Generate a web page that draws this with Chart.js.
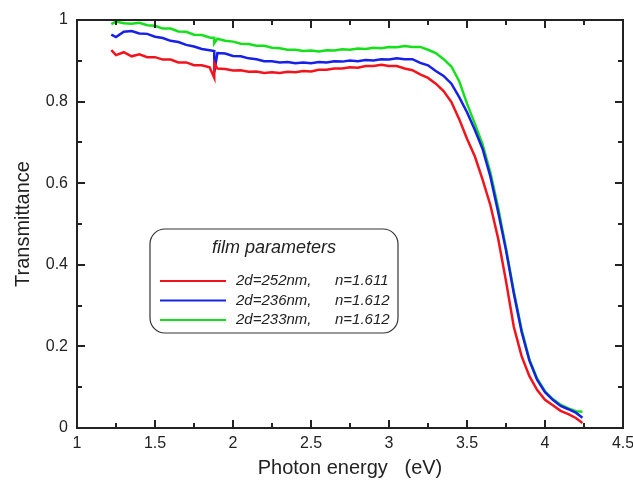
<!DOCTYPE html>
<html>
<head>
<meta charset="utf-8">
<script src="https://cdn.jsdelivr.net/npm/chart.js@4"></script>
<style>
	html, body { margin: 0; padding: 0; background: #fff; }
	#wrap { width: 633px; height: 486px; }
</style>
</head>
<body>
<div id="wrap"><canvas id="myChart" width="633" height="486"></canvas></div>
<script>
// photon energy (eV), shared by all three curves (1.88 twice = the glitch spike)
var energy = [
	1.22, 1.25, 1.3, 1.35, 1.4, 1.45, 1.5, 1.55, 1.6, 1.65,
	1.7, 1.75, 1.8, 1.85, 1.88, 1.88, 1.9, 1.95, 2.0, 2.05,
	2.1, 2.15, 2.2, 2.25, 2.3, 2.35, 2.4, 2.45, 2.5, 2.55,
	2.6, 2.65, 2.7, 2.75, 2.8, 2.85, 2.9, 2.95, 3.0, 3.05,
	3.1, 3.15, 3.2, 3.25, 3.3, 3.35, 3.4, 3.45, 3.5, 3.55,
	3.6, 3.65, 3.7, 3.75, 3.8, 3.85, 3.9, 3.95, 4.0, 4.05,
	4.1, 4.15, 4.2, 4.24,
]
var film252 = [
	0.926, 0.914, 0.921, 0.911, 0.916, 0.909, 0.909, 0.903, 0.903, 0.896,
	0.896, 0.889, 0.889, 0.884, 0.858, 0.895, 0.881, 0.88, 0.876, 0.877,
	0.873, 0.874, 0.87, 0.872, 0.87, 0.873, 0.872, 0.875, 0.874, 0.878,
	0.878, 0.881, 0.881, 0.884, 0.883, 0.887, 0.887, 0.89, 0.887, 0.887,
	0.881, 0.877, 0.867, 0.858, 0.844, 0.826, 0.799, 0.757, 0.709, 0.666,
	0.609, 0.546, 0.464, 0.36, 0.248, 0.176, 0.127, 0.093, 0.069, 0.056,
	0.042, 0.034, 0.024, 0.012,
]
var film236 = [
	0.964, 0.958, 0.971, 0.973, 0.967, 0.966, 0.959, 0.956, 0.949, 0.946,
	0.939, 0.935, 0.929, 0.926, 0.924, 0.872, 0.919, 0.918, 0.912, 0.911,
	0.906, 0.904, 0.899, 0.899, 0.896, 0.897, 0.894, 0.896, 0.894, 0.897,
	0.896, 0.899, 0.898, 0.901, 0.899, 0.902, 0.901, 0.904, 0.903, 0.906,
	0.904, 0.904, 0.895, 0.889, 0.875, 0.863, 0.844, 0.811, 0.774, 0.731,
	0.684, 0.616, 0.529, 0.436, 0.33, 0.236, 0.165, 0.118, 0.088, 0.069,
	0.054, 0.046, 0.037, 0.025,
]
var film233 = [
	0.99, 0.996, 0.992, 0.991, 0.993, 0.987, 0.986, 0.979, 0.979, 0.972,
	0.971, 0.964, 0.963, 0.957, 0.956, 0.943, 0.954, 0.949, 0.947, 0.942,
	0.941, 0.937, 0.937, 0.932, 0.931, 0.927, 0.927, 0.924, 0.925, 0.923,
	0.926, 0.925, 0.928, 0.927, 0.93, 0.929, 0.932, 0.931, 0.934, 0.933,
	0.936, 0.934, 0.934, 0.927, 0.919, 0.904, 0.886, 0.85, 0.795, 0.746,
	0.695, 0.626, 0.54, 0.44, 0.335, 0.241, 0.168, 0.121, 0.09, 0.071,
	0.057, 0.048, 0.041, 0.04,
]
var thickness = ["2d=252nm,", "2d=236nm,", "2d=233nm,"]
var refIndex = ["n=1.611", "n=1.612", "n=1.612"]
var xTicks = [1, 1.5, 2, 2.5, 3, 3.5, 4, 4.5]
var yTicks = [0, 0.2, 0.4, 0.6, 0.8, 1]

var FONT = "'Liberation Sans', Arial, sans-serif"
var INK = "#222"

function pts(ys) {
	return energy.map(function (e, i) { return {x: e, y: ys[i]} })
}

// frame + inward ticks, drawn as filled rects
function drawFrame(chart) {
	var c = chart.ctx, sx = chart.scales.x, sy = chart.scales.y
	var L = Math.round(sx.getPixelForValue(1)), R = Math.round(sx.getPixelForValue(4.5))
	var T = Math.round(sy.getPixelForValue(1)), B = Math.round(sy.getPixelForValue(0))
	var t = 2
	c.save()
	c.fillStyle = INK
	c.fillRect(L - 1, T - 1, R - L + t, t)
	c.fillRect(L - 1, B - 1, R - L + t, t)
	c.fillRect(L - 1, T - 1, t, B - T + t)
	c.fillRect(R - 1, T - 1, t, B - T + t)
	for (var k = 0; k <= 14; k++) {
		var px = Math.round(sx.getPixelForValue(1 + k * 0.25))
		var len = k % 2 === 0 ? 8 : 5
		c.fillRect(px - 1, B - len, t, len)
		c.fillRect(px - 1, T, t, len)
	}
	for (var j = 0; j <= 10; j++) {
		var py = Math.round(sy.getPixelForValue(j / 10))
		var l2 = j % 2 === 0 ? 8 : 5
		c.fillRect(L, py - 1, l2, t)
		c.fillRect(R - l2, py - 1, l2, t)
	}
	c.restore()
}

function drawLegend(chart) {
	var c = chart.ctx, sx = chart.scales.x, sy = chart.scales.y
	var x0 = Math.round(sx.getPixelForValue(1)) + 73, y0 = Math.round(sy.getPixelForValue(1)) + 209
	var w = 248, h = 104, r = 15
	c.save()
	c.fillStyle = "#fff"
	c.strokeStyle = "#333"
	c.lineWidth = 1.2
	c.beginPath()
	c.roundRect(x0, y0, w, h, r)
	c.fill()
	c.stroke()
	c.fillStyle = INK
	c.textBaseline = "middle"
	c.textAlign = "center"
	c.font = "italic 18px " + FONT
	c.fillText("film parameters", x0 + 124, y0 + 19)
	c.font = "italic 15px " + FONT
	c.textAlign = "left"
	chart.data.datasets.forEach(function (ds, i) {
		var yy = y0 + 52 + i * 19.5
		c.fillStyle = ds.borderColor
		c.fillRect(x0 + 10, yy - 1, 66, 2)
		c.fillStyle = INK
		c.fillText(thickness[i], x0 + 86, yy)
		c.fillText(refIndex[i], x0 + 185, yy)
	})
	c.restore()
}

var ctx = document.getElementById("myChart").getContext("2d")
var myChart = new Chart(ctx, {
	type: "line",
	data: {
		datasets: [
			{label: thickness[0], data: pts(film252), borderColor: "#f2141c"},
			{label: thickness[1], data: pts(film236), borderColor: "#1620e6"},
			{label: thickness[2], data: pts(film233), borderColor: "#16e01c"},
		],
	},
	options: {
		responsive: false,
		animation: false,
		layout: {padding: {top: 20, right: 10, left: 0, bottom: 0}},
		elements: {
			point: {radius: 0},
			line: {borderWidth: 2.5, tension: 0},
		},
		scales: {
			x: {
				type: "linear",
				min: 1,
				max: 4.5,
				afterBuildTicks: function (s) { s.ticks = xTicks.map(function (v) { return {value: v} }) },
				afterFit: function (s) { s.height = 58; s.paddingLeft = 0; s.paddingRight = 0 },
				grid: {display: false, drawTicks: false},
				border: {display: false},
				ticks: {color: INK, padding: 6, maxRotation: 0, font: {family: FONT, size: 16}, callback: function (v) { return String(v) }},
				title: {display: true, text: "Photon energy   (eV)", color: INK, padding: {top: 2, bottom: 6}, font: {family: FONT, size: 20}},
			},
			y: {
				min: 0,
				max: 1,
				afterBuildTicks: function (s) { s.ticks = yTicks.map(function (v) { return {value: v} }) },
				afterFit: function (s) { s.width = 77; s.paddingTop = 0; s.paddingBottom = 0 },
				grid: {display: false, drawTicks: false},
				border: {display: false},
				ticks: {color: INK, padding: 9, font: {family: FONT, size: 16}, callback: function (v) { return String(v) }},
				title: {display: true, text: "Transmittance", color: INK, padding: {top: 11, bottom: 0}, font: {family: FONT, size: 20}},
			},
		},
		plugins: {
			legend: {display: false},
			tooltip: {enabled: false},
		},
	},
	plugins: [{id: "deco", afterDraw: function (chart) { drawFrame(chart); drawLegend(chart) }}],
})
</script>
</body>
</html>
